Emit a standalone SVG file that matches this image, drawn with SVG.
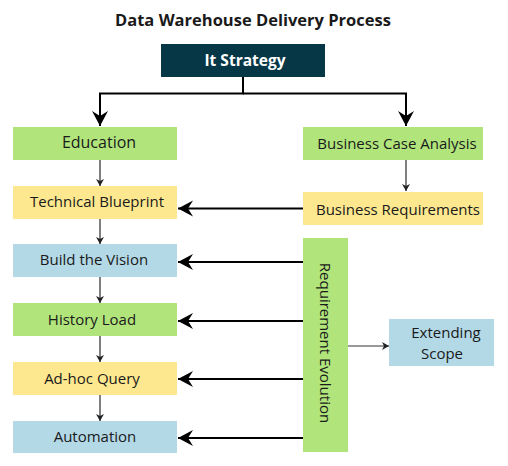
<svg xmlns="http://www.w3.org/2000/svg" width="508" height="466" viewBox="0 0 508 466">
<style>
.t{font-family:"Open Sans","Liberation Sans",sans-serif;font-size:15px;fill:#1a1a1a;text-anchor:middle}
.g{fill:#b1e57c}.y{fill:#fde88f}.b{fill:#b3d8e6}
.big{stroke:#000;stroke-width:2;fill:none}
.sm{stroke:#555;stroke-width:1.5;fill:none}
</style>
<defs>
<marker id="ab" markerUnits="userSpaceOnUse" viewBox="-16 -9 17 18" refX="0" refY="0" markerWidth="17" markerHeight="18" orient="auto">
<path d="M0,0 L-15,-8 L-10,0 L-15,8 Z" fill="#000"/>
</marker>
<marker id="as" markerUnits="userSpaceOnUse" viewBox="-8 -5 9 10" refX="0" refY="0" markerWidth="9" markerHeight="10" orient="auto">
<path d="M0,0 L-7,-4 L-5,0 L-7,4 Z" fill="#222"/>
</marker>
</defs>
<rect width="508" height="466" fill="#fff"/>
<text x="253" y="26" style="font-family:'Open Sans','Liberation Sans',sans-serif;font-size:16.5px;font-weight:bold;fill:#1a1a1a;text-anchor:middle">Data Warehouse Delivery Process</text>
<g id="connectors">
<path class="big" d="M243,77 V93.5 H100 V126" marker-end="url(#ab)"/>
<path class="big" d="M243,93.5 H406 V126" marker-end="url(#ab)"/>
<path class="sm" d="M100,160 V186" marker-end="url(#as)"/>
<path class="sm" d="M406,160 V191" marker-end="url(#as)"/>
<path class="sm" d="M100,219 V244" marker-end="url(#as)"/>
<path class="sm" d="M100,277 V303" marker-end="url(#as)"/>
<path class="sm" d="M100,336 V362" marker-end="url(#as)"/>
<path class="sm" d="M100,395 V421" marker-end="url(#as)"/>
<path class="big" d="M303,208.5 H178" marker-end="url(#ab)"/>
<path class="big" d="M303,262 H178" marker-end="url(#ab)"/>
<path class="big" d="M303,321 H178" marker-end="url(#ab)"/>
<path class="big" d="M303,379 H178" marker-end="url(#ab)"/>
<path class="big" d="M303,438 H178" marker-end="url(#ab)"/>
<path d="M348,346 H389" stroke="#333" stroke-width="1" fill="none" marker-end="url(#as)"/>
</g>
<g id="it-strategy"><rect x="161" y="44" width="164" height="33" fill="#063746"/><text x="245" y="66" style="font-family:'Open Sans','Liberation Sans',sans-serif;font-size:15.5px;font-weight:bold;fill:#fff;text-anchor:middle">It Strategy</text></g>
<g id="education"><rect class="g" x="13" y="127" width="164" height="33"/><text class="t" x="99" y="148" style="font-size:16px">Education</text></g>
<g id="business-case"><rect class="g" x="303" y="127" width="180" height="33"/><text class="t" x="397" y="149">Business Case Analysis</text></g>
<g id="technical-blueprint"><rect class="y" x="13" y="186" width="164" height="33"/><text class="t" x="97" y="207">Technical Blueprint</text></g>
<g id="business-req"><rect class="y" x="303" y="192" width="180" height="33"/><text class="t" x="398" y="215">Business Requirements</text></g>
<g id="build-vision"><rect class="b" x="13" y="244" width="164" height="33"/><text class="t" x="94" y="265">Build the Vision</text></g>
<g id="history-load"><rect class="g" x="13" y="303" width="164" height="33"/><text class="t" x="92" y="325">History Load</text></g>
<g id="adhoc"><rect class="y" x="13" y="362" width="164" height="33"/><text class="t" x="92" y="384">Ad-hoc Query</text></g>
<g id="automation"><rect class="b" x="13" y="421" width="164" height="32"/><text class="t" x="95" y="442">Automation</text></g>
<g id="req-evolution"><rect class="g" x="303" y="238" width="45" height="214"/><text class="t" transform="translate(320,343) rotate(90)">Requirement Evolution</text></g>
<g id="extending-scope"><rect class="b" x="389" y="319" width="105" height="47"/><text class="t" x="446" y="338">Extending</text><text class="t" x="442" y="359">Scope</text></g>
</svg>
